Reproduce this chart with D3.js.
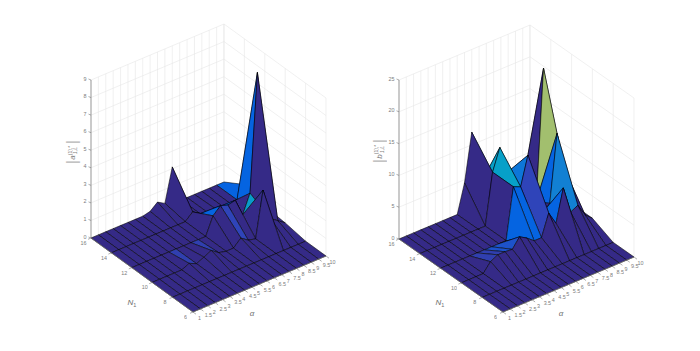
<!DOCTYPE html>
<html>
<head>
<meta charset="utf-8">
<script src="https://d3js.org/d3.v7.min.js"></script>
<style>
    html, body { margin: 0; padding: 0; background: #fff; }
    svg { display: block; }
    text { font-family: "Liberation Sans", sans-serif; opacity: 0.85; }
</style>
</head>
<body>
<div id="chart"></div>
<script>
var alphaTicks = [1, 1.5, 2, 2.5, 3, 3.5, 4, 4.5, 5, 5.5, 6, 6.5, 7, 7.5, 8, 8.5, 9, 9.5, 10];
var alphaLabels = ["1", "1.5", "2", "2.5", "3", "3.5", "4", "4.5", "5", "5.5", "6", "6.5", "7", "7.5", "8", "8.5", "9", "9.5", "10"];
var nTicks = [6, 8, 10, 12, 14, 16];

// one row per N, one value per alpha
var leftN6  = [0, 0, 0, 0, 0, 0, 0, 0, 0, 0, 0, 0, 0, 0, 0, 0, 0, 0, 0];
var leftN8  = [0, 0, 0, 0, 0, 0, 0, 0, 0, 0, 0, 0, 0, 0, 0, 0, 0, 0, 0];
var leftN10 = [0, 0, 0, 0, 0, 0.2, 0, 0.2, 0.4, 0.1, 0, 0, 0.4, 0.1, 0, 2.6, 0.8, 0.5, 0.2];
var leftN12 = [0, 0, 0, 0, 0, 0, 0, 0, 0, 0, 0, 1, 1.4, 1.26, 1.35, 0.34, 1.4, 8.1, 0.3];
var leftN14 = [0, 0, 0, 0, 0, 0, 0, 0, 0, 0, 0, 0.38, 0.1, 0, 0.05, 0, 0, 0, 0.7];
var leftN16 = [0, 0, 0, 0, 0, 0, 0, 0, 0.1, 0.45, 0.2, 2.1, 0.1, 0, 0, 0, 0, 0, 0];

var rightN6  = [0, 0, 0, 0, 0, 0, 0, 0, 0, 0, 0, 0, 0, 0, 0, 0, 0, 0, 0];
var rightN8  = [0, 0, 0, 0, 0, 0, 0, 0, 0, 0, 0, 0, 0, 0, 0, 0, 0, 0, 0];
var rightN10 = [0, 0, 0, 0, 1.4, 2, 2, 1.9, 3.4, 2.7, 1.8, 1.8, 5.2, 3.1, 8.2, 3.9, 4.5, 2.5, 1.5];
var rightN12 = [0, 0, 0, 0, 0, 0, 0, 0, 0, 0, 8, 7.5, 12, 3, 2, 3, 13.5, 7.5, 1.5];
var rightN14 = [0, 0, 0, 0, 0, 0, 0, 0, 0, 0, 8, 11.4, 7, 4, 2, 1, 0.5, 21, 1];
var rightN16 = [0, 0, 0, 0, 0, 0, 0, 0, 0, 4.5, 12, 3, 1, 0, 0, 0, 0, 0.5, 0];

// lighter faces: [alpha, N, colour level], named by the low corner of the cell
var leftFaces = [[9, 12, 0.17], [9.5, 14, 0.17], [8.5, 10, 0.36],
    [6.5, 12, 0.17], [7.5, 12, 0.17], [7, 10, 0.1], [5, 10, 0.08], [3.5, 10, 0.08]];
var rightFaces = [[9, 12, 0.6], [8.5, 12, 0.17], [8.5, 10, 0.25], [7.5, 10, 0.17],
    [6.5, 12, 0.22], [6.5, 10, 0.1], [6, 12, 0.38], [6, 14, 0.38], [6, 10, 0.17], [5.5, 10, 0.17],
    [3, 10, 0.08], [3.5, 10, 0.08], [4, 10, 0.13], [4.5, 10, 0.13], [5, 10, 0.08]];

var colour = d3.scaleLinear()
    .domain([0, 0.1, 0.17, 0.25, 0.38, 0.6])
    .range(["#352a87", "#2f44b9", "#0564e1", "#1280d3", "#07a0c8", "#a2bf6e"]);

var width = 700, height = 351;
var svg = d3.select("#chart").append("svg")
    .attr("width", width)
    .attr("height", height);

function panel(opts) {
    var a = d3.scaleLinear().domain([1, 10]);
    var ax = a.copy().range([0, opts.right[0] - opts.front[0]]);
    var ay = a.copy().range([0, opts.right[1] - opts.front[1]]);
    var n = d3.scaleLinear().domain([6, 16]);
    var nx = n.copy().range([0, opts.left[0] - opts.front[0]]);
    var ny = n.copy().range([0, opts.left[1] - opts.front[1]]);
    var zy = d3.scaleLinear().domain([0, opts.zMax]).range([0, opts.top - opts.left[1]]);

    function px(al, nn) { return opts.front[0] + ax(al) + nx(nn); }
    function py(al, nn, z) { return opts.front[1] + ay(al) + ny(nn) + zy(z); }

    var g = svg.append("g");

    function wallLine(x1, y1, x2, y2) {
        g.append("line")
            .attr("x1", x1).attr("y1", y1).attr("x2", x2).attr("y2", y2)
            .attr("stroke", "#e6e6e6")
            .attr("stroke-width", 0.6);
    }

    // back walls
    alphaTicks.forEach(function(al) {
        wallLine(px(al, 16), py(al, 16, 0), px(al, 16), py(al, 16, opts.zMax));
        wallLine(px(al, 6), py(al, 6, 0), px(al, 16), py(al, 16, 0));
    });
    nTicks.forEach(function(nn) {
        wallLine(px(10, nn), py(10, nn, 0), px(10, nn), py(10, nn, opts.zMax));
        wallLine(px(1, nn), py(1, nn, 0), px(10, nn), py(10, nn, 0));
    });
    opts.zTicks.forEach(function(z) {
        wallLine(px(1, 16), py(1, 16, z), px(10, 16), py(10, 16, z));
        wallLine(px(10, 16), py(10, 16, z), px(10, 6), py(10, 6, z));
    });

    // surface, back to front
    var cells = [];
    for (var j = nTicks.length - 2; j >= 0; j--) {
        for (var i = alphaTicks.length - 2; i >= 0; i--) {
            cells.push([i, j]);
        }
    }

    function faceLevel(i, j) {
        var hit = opts.faces.filter(function(f) {
            return f[0] === alphaTicks[i] && f[1] === nTicks[j];
        });
        return hit.length ? hit[0][2] : 0;
    }

    g.selectAll("path.face")
        .data(cells)
        .enter().append("path")
        .attr("class", "face")
        .attr("d", function(c) {
            var i = c[0], j = c[1];
            var corners = [[i, j], [i + 1, j], [i + 1, j + 1], [i, j + 1]];
            return "M" + corners.map(function(k) {
                var al = alphaTicks[k[0]], nn = nTicks[k[1]];
                return px(al, nn) + "," + py(al, nn, opts.rows[k[1]][k[0]]);
            }).join("L") + "Z";
        })
        .attr("fill", function(c) { return colour(faceLevel(c[0], c[1])); })
        .attr("stroke", "#000")
        .attr("stroke-width", 0.55)
        .attr("stroke-linejoin", "round");

    // axis lines
    var axisColour = "#777";
    [[px(1, 16), py(1, 16, 0), px(1, 16), py(1, 16, opts.zMax)],
     [px(1, 16), py(1, 16, 0), px(1, 6), py(1, 6, 0)],
     [px(1, 6), py(1, 6, 0), px(10, 6), py(10, 6, 0)]].forEach(function(d) {
        g.append("line")
            .attr("x1", d[0]).attr("y1", d[1]).attr("x2", d[2]).attr("y2", d[3])
            .attr("stroke", axisColour)
            .attr("stroke-width", 0.7);
    });

    function label(x, y, s, anchor) {
        g.append("text")
            .attr("x", x).attr("y", y)
            .attr("text-anchor", anchor || "middle")
            .attr("font-size", 5.4)
            .attr("fill", "#666")
            .text(s);
    }

    function tick(x1, y1, x2, y2) {
        g.append("line")
            .attr("x1", x1).attr("y1", y1).attr("x2", x2).attr("y2", y2)
            .attr("stroke", axisColour)
            .attr("stroke-width", 0.6);
    }

    opts.zTicks.forEach(function(z) {
        var x = px(1, 16), y = py(1, 16, z);
        tick(x, y, x - 2.5, y - 1);
        label(x - 4.5, y + 0.5, z, "end");
    });
    nTicks.forEach(function(nn) {
        var x = px(1, nn), y = py(1, nn, 0);
        tick(x, y, x - 3, y + 1.3);
        label(x - 7.5, y + 7, nn);
    });
    alphaTicks.forEach(function(al, i) {
        var x = px(al, 6), y = py(al, 6, 0);
        tick(x, y, x + 3, y + 2.2);
        label(x + (i % 2 ? 8 : 6.5), y + 8, alphaLabels[i]);
    });

    // axis titles
    var nTitle = g.append("text")
        .attr("x", opts.nTitle[0]).attr("y", opts.nTitle[1])
        .attr("text-anchor", "middle")
        .attr("font-family", "Liberation Serif")
        .attr("font-style", "italic")
        .attr("font-size", 8)
        .attr("fill", "#555")
        .text("N");
    nTitle.append("tspan").attr("dy", 1.5).attr("font-size", 5.5).attr("font-style", "normal").text("1");

    g.append("text")
        .attr("x", opts.aTitle[0]).attr("y", opts.aTitle[1])
        .attr("text-anchor", "middle")
        .attr("font-family", "Liberation Serif")
        .attr("font-style", "italic")
        .attr("font-size", 8)
        .attr("fill", "#555")
        .text("α");

    // z title is rotated, the bars stand a little apart from the symbol
    var zTitle = g.append("g")
        .attr("transform", "translate(" + opts.zTitle[0] + "," + opts.zTitle[1] + ") rotate(-90)")
        .attr("font-family", "Liberation Serif");

    function zPart(x, y, size, s, style, fill) {
        zTitle.append("text")
            .attr("x", x).attr("y", y)
            .attr("text-anchor", "middle")
            .attr("font-family", "Liberation Serif")
            .attr("font-size", size)
            .attr("font-style", style || "normal")
            .attr("fill", fill || "#666")
            .text(s);
    }
    zPart(-10, 4.5, 15, "|", "normal", "#aaa");
    zPart(10, 4.5, 15, "|", "normal", "#aaa");
    zPart(-5.5, 2.5, 8, opts.letter, "italic");
    zPart(1.5, -1, 5, "(1),*");
    zPart(1.5, 4.8, 5, "1,L", "italic");
}

panel({
    front: [193, 312], left: [91, 238], right: [326, 256], top: 80,
    zMax: 9, zTicks: d3.range(0, 10),
    rows: [leftN6, leftN8, leftN10, leftN12, leftN14, leftN16],
    faces: leftFaces, letter: "a",
    nTitle: [132, 305], aTitle: [252, 316], zTitle: [72.5, 152]
});
panel({
    front: [503, 312], left: [399, 239], right: [634, 257], top: 80,
    zMax: 25, zTicks: d3.range(0, 30, 5),
    rows: [rightN6, rightN8, rightN10, rightN12, rightN14, rightN16],
    faces: rightFaces, letter: "b",
    nTitle: [440, 305], aTitle: [561, 316], zTitle: [379, 151]
});
</script>
</body>
</html>
